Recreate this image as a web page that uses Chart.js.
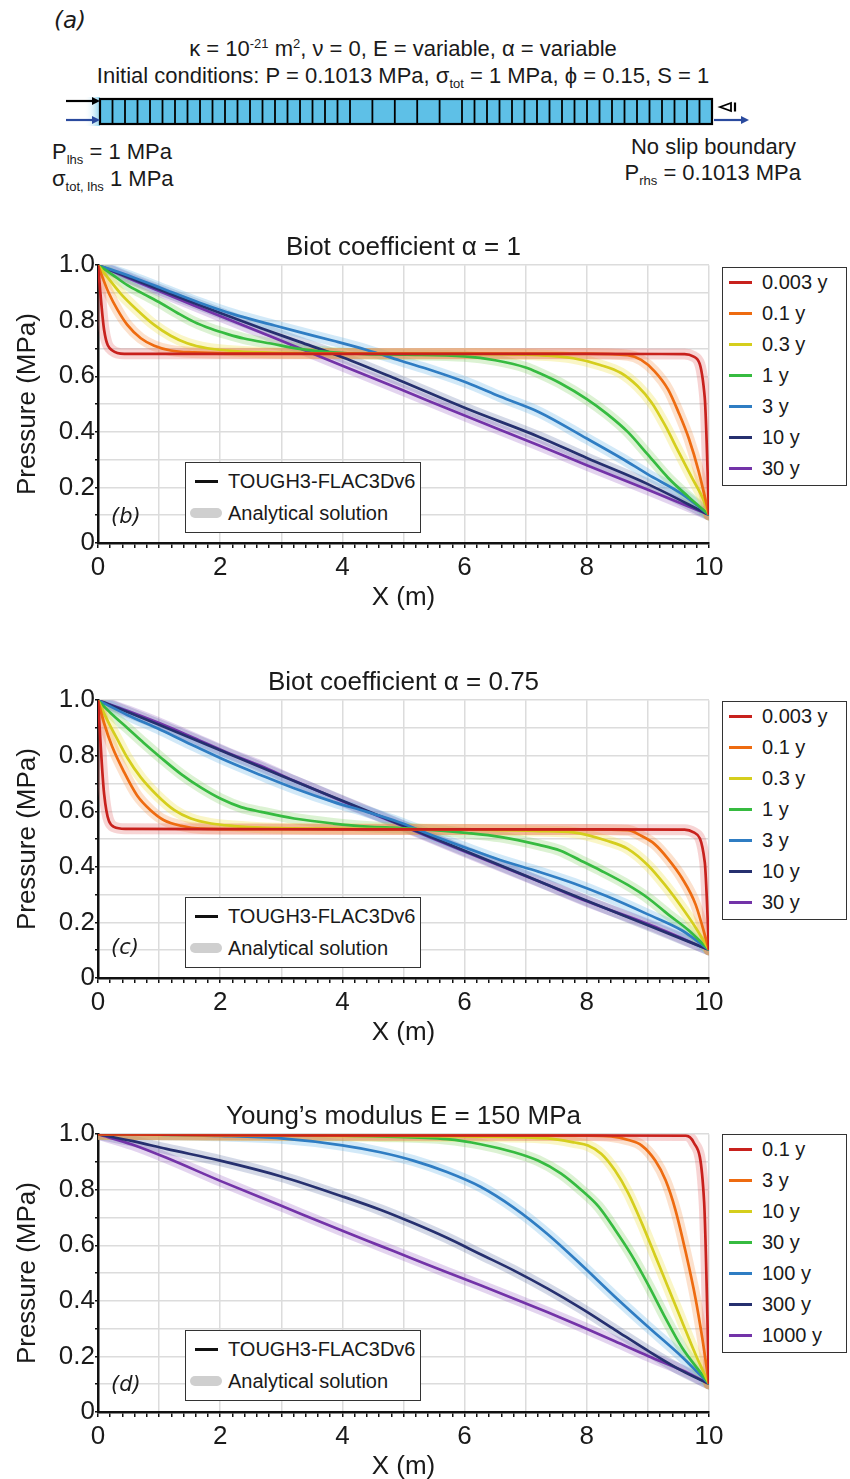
<!DOCTYPE html>
<html><head><meta charset="utf-8">
<script src="https://cdn.jsdelivr.net/npm/chart.js@4.4.0/dist/chart.umd.min.js"></script>
<style>
html,body{margin:0;padding:0;width:850px;height:1479px;overflow:hidden;background:#fff;font-family:'Liberation Sans',Arial,sans-serif;color:#1a1a1a}
canvas{position:absolute;left:0}
.t{position:absolute;white-space:nowrap;font-size:22px;line-height:22px}
.c{transform:translateX(-50%)}
.r{transform:translateX(-100%)}
sub,sup{font-size:13px;line-height:0}
.leg{position:absolute;border:1.5px solid #333;background:#fff;box-sizing:border-box}
.sw{position:absolute;height:3px}
.lt{position:absolute;font-size:20px;line-height:20px;white-space:nowrap}
.pl{position:absolute;font-family:'DejaVu Sans',sans-serif;font-style:italic;font-size:21px;line-height:21px}
</style></head>
<body>
<svg width="850" height="200" style="position:absolute;left:0;top:0">
  <defs>
    <linearGradient id="glow" x1="0" x2="1" y1="0" y2="0">
      <stop offset="0" stop-color="#ffffff" stop-opacity="0"/>
      <stop offset="1" stop-color="#8fd3ef" stop-opacity="1"/>
    </linearGradient>
  </defs>
  <rect x="84" y="97" width="16" height="29" fill="url(#glow)"/>
  <rect id="bar" x="100" y="99" width="612" height="25" fill="#5ec0e7" stroke="#000" stroke-width="2.2"/>
  <g id="cells" stroke="#000" stroke-width="1.8"></g>
  <line x1="66" y1="101" x2="93" y2="101" stroke="#000" stroke-width="2.2"/>
  <polygon points="92,97 100,101 92,105" fill="#000"/>
  <line x1="66" y1="120" x2="93" y2="120" stroke="#2a4a9e" stroke-width="2.2"/>
  <polygon points="92,116 100,120 92,124" fill="#2a4a9e"/>
  <line x1="714" y1="120" x2="742" y2="120" stroke="#2a4a9e" stroke-width="2.2"/>
  <polygon points="741,116 749,120 741,124" fill="#2a4a9e"/>
  <polygon points="720,107 731,103 731,111" fill="none" stroke="#000" stroke-width="1.8"/>
  <line x1="735" y1="102.5" x2="735" y2="111.5" stroke="#000" stroke-width="2.2"/>
</svg>
<div class="pl" style="left:54px;top:9px;font-size:23px;line-height:23px">(a)</div>
<div class="t c" style="left:403px;top:38px">κ = 10<sup>-21</sup> m<sup>2</sup>, ν = 0, E = variable, α = variable</div>
<div class="t c" style="left:403px;top:65px">Initial conditions: P = 0.1013 MPa, σ<sub>tot</sub> = 1 MPa, ϕ = 0.15, S = 1</div>
<div class="t" style="left:52px;top:141px">P<sub>lhs</sub> = 1 MPa</div>
<div class="t" style="left:52px;top:168px">σ<sub>tot, lhs</sub> 1 MPa</div>
<div class="t r" style="left:796px;top:136px">No slip boundary</div>
<div class="t r" style="left:801px;top:162px">P<sub>rhs</sub> = 0.1013 MPa</div>

<canvas id="cb" width="850" height="410" style="top:210px"></canvas>
<canvas id="cc" width="850" height="410" style="top:645px"></canvas>
<canvas id="cd" width="850" height="410" style="top:1079px"></canvas>

<script>
// ---------- Panel (b): Biot coefficient alpha = 1 ----------
const B_labels = ['0.003 y','0.1 y','0.3 y','1 y','3 y','10 y','30 y'];
const B_t0003_x = [0,0.1,0.235,0.43,2,4,6,8,9.6,9.75,9.93,10];
const B_t0003_p = [1,0.767,0.693,0.681,0.681,0.681,0.681,0.681,0.68,0.671,0.524,0.1013];
const B_t01_x = [0,0.07,0.18,0.32,0.48,0.7,0.92,1.19,1.57,2.12,4,6,8,8.67,8.89,9.11,9.33,9.5,9.67,9.83,10];
const B_t01_p = [1,0.958,0.898,0.839,0.785,0.737,0.71,0.693,0.686,0.683,0.682,0.682,0.682,0.676,0.659,0.618,0.553,0.471,0.376,0.259,0.1013];
const B_t03_x = [0,0.15,0.37,0.64,0.92,1.19,1.46,1.79,2.12,2.67,4,6,7.22,7.78,8.22,8.56,8.83,9.06,9.28,9.5,9.72,9.89,10];
const B_t03_p = [1,0.958,0.898,0.839,0.785,0.746,0.719,0.701,0.693,0.686,0.682,0.681,0.676,0.665,0.641,0.612,0.565,0.506,0.424,0.329,0.235,0.165,0.1013];
const B_t1_x = [0,0.21,0.48,0.75,1.03,1.3,1.57,1.85,2.12,2.39,2.83,3.3,3.85,4.4,5,6,6.5,7.0,7.22,7.56,8.0,8.33,8.67,9.0,9.33,9.67,10];
const B_t1_p = [1,0.97,0.928,0.896,0.863,0.828,0.796,0.771,0.752,0.736,0.718,0.699,0.686,0.68,0.678,0.672,0.658,0.632,0.612,0.576,0.518,0.465,0.4,0.318,0.235,0.165,0.1013];
const B_t3_x = [0,0.57,1.12,1.66,2.21,2.89,3.3,3.85,4.4,4.94,5.48,6.04,6.58,7.22,8.0,8.56,9.0,9.56,10];
const B_t3_p = [1,0.957,0.91,0.865,0.824,0.783,0.759,0.728,0.695,0.657,0.62,0.577,0.527,0.471,0.376,0.306,0.247,0.176,0.1013];
const B_t10_x = [0,0.48,1.03,1.57,2.12,2.67,3.3,4.01,4.94,6.04,7.22,8.0,9.0,10];
const B_t10_p = [1,0.958,0.91,0.864,0.818,0.773,0.724,0.668,0.585,0.483,0.382,0.306,0.212,0.1013];
const B_t30_x = [0,0.48,1.03,1.57,2.12,2.83,4.01,4.94,6.04,7.22,8,9,10];
const B_t30_p = [1,0.955,0.904,0.855,0.806,0.743,0.637,0.554,0.455,0.351,0.28,0.192,0.1013];

// ---------- Panel (c): Biot coefficient alpha = 0.75 ----------
const C_labels = ['0.003 y','0.1 y','0.3 y','1 y','3 y','10 y','30 y'];
const C_t0003_x = [0,0.1,0.26,0.45,2,4,6,8,9.6,9.75,9.93,10];
const C_t0003_p = [1,0.663,0.544,0.537,0.536,0.535,0.535,0.535,0.534,0.524,0.418,0.1013];
const C_t01_x = [0,0.1,0.23,0.43,0.64,0.86,1.08,1.36,1.68,2.5,5,8,8.67,8.89,9.11,9.33,9.56,9.78,10];
const C_t01_p = [1,0.917,0.834,0.74,0.657,0.604,0.568,0.548,0.538,0.536,0.535,0.535,0.532,0.512,0.482,0.429,0.359,0.265,0.1013];
const C_t03_x = [0,0.15,0.32,0.48,0.7,0.97,1.25,1.52,1.85,2.23,2.67,4,6,7.22,7.78,8.33,8.67,9,9.28,9.56,9.78,10];
const C_t03_p = [1,0.929,0.858,0.793,0.722,0.657,0.604,0.574,0.556,0.547,0.541,0.537,0.535,0.529,0.524,0.494,0.465,0.406,0.335,0.253,0.182,0.1013];
const C_t1_x = [0,0.21,0.48,0.75,1.03,1.36,1.68,2.01,2.34,2.67,3.21,3.85,4.4,4.94,5.5,6.04,6.58,7.22,7.56,7.89,8.22,8.67,9,9.33,9.67,10];
const C_t1_p = [1,0.953,0.9,0.846,0.793,0.734,0.686,0.645,0.615,0.598,0.574,0.556,0.545,0.54,0.532,0.522,0.508,0.479,0.459,0.424,0.388,0.335,0.288,0.229,0.171,0.1013];
const C_t3_x = [0,0.48,1.03,1.57,2.12,2.67,3.21,3.85,4.4,4.94,5.49,6.04,6.58,7.22,7.78,8.33,9,9.56,10];
const C_t3_p = [1,0.947,0.893,0.836,0.78,0.73,0.683,0.634,0.598,0.56,0.512,0.467,0.425,0.382,0.341,0.294,0.229,0.171,0.1013];
const C_t10_x = [0,1,2,3,4,5,6,7,8,9,10];
const C_t10_p = [1,0.912,0.82,0.728,0.638,0.548,0.458,0.368,0.278,0.19,0.1013];
const C_t30_x = [0,0.48,1.03,1.57,2.12,2.67,3.21,4,5,6,7.22,8,9,10];
const C_t30_p = [1,0.962,0.915,0.864,0.811,0.763,0.71,0.636,0.546,0.455,0.347,0.276,0.194,0.1013];

// ---------- Panel (d): Young's modulus E = 150 MPa ----------
const D_labels = ['0.1 y','3 y','10 y','30 y','100 y','300 y','1000 y'];
const D_t01_x = [0,2,4,6,8,9.62,9.75,9.92,10];
const D_t01_p = [1,0.997,0.996,0.996,0.996,0.995,0.97,0.757,0.1013];
const D_t3_x = [0,2,4,6,8,8.4,8.68,8.9,9.12,9.29,9.45,9.62,9.78,9.89,10];
const D_t3_p = [1,0.997,0.996,0.996,0.995,0.992,0.979,0.959,0.905,0.834,0.728,0.574,0.408,0.266,0.1013];
const D_t10_x = [0,2,4,6,7.36,7.8,8.02,8.24,8.46,8.68,8.9,9.12,9.34,9.56,9.78,10];
const D_t10_p = [1,0.996,0.994,0.992,0.985,0.97,0.959,0.929,0.87,0.787,0.68,0.562,0.444,0.325,0.207,0.1013];
const D_t30_x = [0,2,4,4.62,5.71,6.26,6.81,7.2,7.58,7.91,8.19,8.46,8.74,9.01,9.29,9.56,9.84,10];
const D_t30_p = [1,0.998,0.995,0.992,0.982,0.964,0.935,0.905,0.858,0.799,0.74,0.657,0.562,0.456,0.337,0.231,0.148,0.1013];
const D_t100_x = [0,1,2,3,4,4.62,5.16,5.71,6.26,6.81,7.36,7.91,8.46,9.01,9.56,10];
const D_t100_p = [1,0.998,0.994,0.985,0.96,0.935,0.905,0.864,0.811,0.735,0.64,0.53,0.415,0.305,0.198,0.1013];
const D_t300_x = [0,0.57,1.12,2,3,4,4.62,5.16,5.71,6.26,6.81,7.36,7.91,8.46,9.01,9.56,10];
const D_t300_p = [1,0.975,0.947,0.905,0.848,0.776,0.728,0.68,0.627,0.568,0.509,0.444,0.373,0.296,0.219,0.148,0.1013];
const D_t1000_x = [0,0.57,1.12,2,3,4,4.62,5.16,5.71,6.26,6.81,7.36,7.91,8.46,9.01,9.56,10];
const D_t1000_p = [1,0.962,0.915,0.832,0.742,0.652,0.598,0.551,0.503,0.456,0.408,0.359,0.308,0.255,0.201,0.15,0.1013];

const X_tick_labels = ['0','2','4','6','8','10'];
const Y_tick_labels = ['0','0.2','0.4','0.6','0.8','1.0'];

const lineColors = ['#c8211d','#ee6b10','#d5ce1d','#36bb40','#2f7dc3','#26306f','#7333a8'];
const bandColors = ['rgba(226,95,95,0.27)','rgba(245,145,70,0.27)','rgba(240,226,80,0.32)','rgba(140,212,110,0.3)','rgba(105,182,232,0.3)','rgba(75,95,155,0.24)','rgba(150,95,195,0.27)'];

const FONT = "'Liberation Sans', Arial, sans-serif";

// ---------- schematic cells ----------
(function(){
  const g = document.getElementById('cells');
  const xs = [];
  const nSmall = 20, left = 100, right = 712, midL = 350, midR = 462;
  for (let i = 1; i <= nSmall; i++) xs.push(left + (midL-left)*i/nSmall);
  for (let i = 1; i < 5; i++) xs.push(midL + (midR-midL)*i/5);
  for (let i = 0; i < nSmall; i++) xs.push(midR + (right-midR)*i/nSmall);
  xs.forEach(x => {
    const l = document.createElementNS('http://www.w3.org/2000/svg','line');
    l.setAttribute('x1', x); l.setAttribute('x2', x);
    l.setAttribute('y1', 99); l.setAttribute('y2', 124);
    g.appendChild(l);
  });
})();

function pts(xs, ps){ return xs.map((x,i)=>({x:x, y:ps[i]})); }
function isInt(v){ return Math.abs(v - Math.round(v)) < 1e-6; }

function makeChart(id, title, series){
  const datasets = [];
  series.forEach((s, i) => {
    const d = pts(s[0], s[1]);
    datasets.push({data:d, borderColor:bandColors[i], borderWidth:11, pointRadius:0,
      borderCapStyle:'round', borderJoinStyle:'round', cubicInterpolationMode:'monotone', order:1, fill:false});
    datasets.push({data:d, borderColor:lineColors[i], borderWidth:2.7, pointRadius:0,
      cubicInterpolationMode:'monotone', order:0, fill:false});
  });
  return new Chart(document.getElementById(id), {
    type:'line',
    data:{datasets},
    options:{
      responsive:false, animation:false, devicePixelRatio:1,
      layout:{padding:{left:0,right:141,top:0,bottom:0}},
      plugins:{
        legend:{display:false}, tooltip:{enabled:false},
        title:{display:true, text:title, fullSize:false, color:'#1a1a1a',
          font:{family:FONT, size:26, weight:'normal'}, lineHeight:1.15, padding:{top:22,bottom:2}}
      },
      scales:{
        x:{type:'linear', min:0, max:10,
          afterFit:s=>{s.height=77;},
          ticks:{stepSize:0.2, autoSkip:false, maxRotation:0, padding:4, color:'#1a1a1a',
            font:{family:FONT, size:26},
            callback:v=>{ if(isInt(v) && Math.round(v)%2===0) return X_tick_labels[Math.round(v)/2]; return ''; }},
          grid:{color:c=> (c.tick && isInt(c.tick.value)) ? '#dcdcdc' : 'rgba(0,0,0,0)', lineWidth:1.5,
            tickColor:'#111', tickLength:5, tickWidth:1.5},
          border:{color:'#111', width:2.5},
          title:{display:true, text:'X (m)', color:'#1a1a1a', font:{family:FONT, size:26}, padding:{top:0,bottom:7}}
        },
        y:{min:0, max:1,
          afterFit:s=>{s.width=98;},
          ticks:{stepSize:0.1, autoSkip:false, padding:0, color:'#1a1a1a',
            font:{family:FONT, size:26},
            callback:v=>{ const k=Math.round(v*10); if(Math.abs(v*10-k)<1e-6 && k%2===0) return Y_tick_labels[k/2]; return ''; }},
          grid:{color:'#dcdcdc', lineWidth:1.5, tickColor:'#111', tickLength:3, tickWidth:1.5},
          border:{color:'#111', width:2.5},
          title:{display:true, text:'Pressure (MPa)', color:'#1a1a1a', font:{family:FONT, size:26}, padding:{top:12,bottom:0}}
        }
      }
    }
  });
}

makeChart('cb', 'Biot coefficient \u03B1 = 1', [
  [B_t0003_x,B_t0003_p],[B_t01_x,B_t01_p],[B_t03_x,B_t03_p],[B_t1_x,B_t1_p],
  [B_t3_x,B_t3_p],[B_t10_x,B_t10_p],[B_t30_x,B_t30_p]]);
makeChart('cc', 'Biot coefficient \u03B1 = 0.75', [
  [C_t0003_x,C_t0003_p],[C_t01_x,C_t01_p],[C_t03_x,C_t03_p],[C_t1_x,C_t1_p],
  [C_t3_x,C_t3_p],[C_t10_x,C_t10_p],[C_t30_x,C_t30_p]]);
makeChart('cd', 'Young\u2019s modulus E = 150 MPa', [
  [D_t01_x,D_t01_p],[D_t3_x,D_t3_p],[D_t10_x,D_t10_p],[D_t30_x,D_t30_p],
  [D_t100_x,D_t100_p],[D_t300_x,D_t300_p],[D_t1000_x,D_t1000_p]]);

// ---------- legends (HTML) ----------
function sideLegend(top, labels){
  const box = document.createElement('div');
  box.className = 'leg';
  box.style.left = '722px'; box.style.top = top + 'px';
  box.style.width = '125px'; box.style.height = '219px';
  labels.forEach((lab, i) => {
    const cy = 14 + 31*i;
    const sw = document.createElement('div');
    sw.className = 'sw';
    sw.style.left = '6px'; sw.style.width = '23px'; sw.style.top = (cy-1.5) + 'px';
    sw.style.background = lineColors[i];
    box.appendChild(sw);
    const t = document.createElement('div');
    t.className = 'lt'; t.style.left = '39px'; t.style.top = (cy-10) + 'px';
    t.textContent = lab;
    box.appendChild(t);
  });
  document.body.appendChild(box);
}
function innerLegend(top){
  const box = document.createElement('div');
  box.className = 'leg';
  box.style.left = '185px'; box.style.top = top + 'px';
  box.style.width = '236px'; box.style.height = '71px';
  box.innerHTML =
    '<div class="sw" style="left:9px;width:23px;top:16.5px;background:#111"></div>' +
    '<div class="lt" style="left:42px;top:8px">TOUGH3-FLAC3Dv6</div>' +
    '<div class="sw" style="left:4px;width:32px;top:45px;height:10px;border-radius:5px;background:#cfcfcf"></div>' +
    '<div class="lt" style="left:42px;top:40px">Analytical solution</div>';
  document.body.appendChild(box);
}
sideLegend(267, B_labels); sideLegend(701, C_labels); sideLegend(1134, D_labels);
innerLegend(462); innerLegend(897); innerLegend(1330);

[['(b)',506],['(c)',937],['(d)',1374]].forEach(([s,y])=>{
  const d = document.createElement('div');
  d.className = 'pl'; d.style.left = '111px'; d.style.top = y + 'px';
  d.textContent = s; document.body.appendChild(d);
});
</script>
</body></html>
